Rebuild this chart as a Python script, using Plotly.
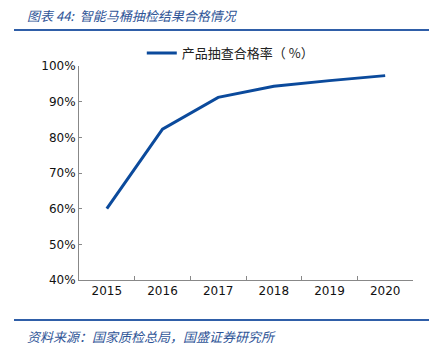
import plotly.graph_objects as go

years = ["2015", "2016", "2017", "2018", "2019", "2020"]
pass_rate = [60.0, 82.3, 91.2, 94.3, 95.9, 97.3]
y_ticks = [40, 50, 60, 70, 80, 90, 100]
y_labels = [f"{v}%" for v in y_ticks]
series_name = "产品抽查合格率（ %）"
title_text = "图表 44:  智能马桶抽检结果合格情况"
source_text = "资料来源：国家质检总局，国盛证券研究所"

W, H = 429, 351
L, R, T, B = 79, 16, 66, 71

fig = go.Figure()
fig.add_trace(go.Scatter(
    x=years, y=pass_rate, mode="lines", name=series_name,
    line=dict(color="#0B4A9C", width=3),
))

fig.update_layout(
    width=W, height=H,
    margin=dict(l=L, r=R, t=T, b=B),
    paper_bgcolor="white", plot_bgcolor="white",
    showlegend=True,
    legend=dict(
        x=0.188, y=1.061, xanchor="left", yanchor="middle",
        orientation="h",
        font=dict(family="Noto Sans CJK SC", size=13, color="#222222"),
        bgcolor="rgba(0,0,0,0)",
    ),
    xaxis=dict(
        type="category",
        showline=True, linecolor="#888888", linewidth=1,
        ticks="inside", ticklen=4, tickcolor="#888888",
        tickson="boundaries",
        showgrid=False, zeroline=False,
        tickfont=dict(family="DejaVu Sans", size=12, color="#111111"),
        range=[-0.5, 5.5],
    ),
    yaxis=dict(
        range=[40, 100],
        tickvals=y_ticks, ticktext=y_labels,
        showline=True, linecolor="#888888", linewidth=1,
        ticks="inside", ticklen=3, tickcolor="#888888",
        showgrid=False, zeroline=False,
        tickfont=dict(family="DejaVu Sans", size=12, color="#111111"),
    ),
)

line_color = "#2F5EA8"
pw = W - L - R
ph = H - T - B
fig.add_shape(type="line", xref="paper", yref="paper",
              x0=(14 - L) / pw, x1=(429 - L) / pw,
              y0=(H - B - 30) / ph, y1=(H - B - 30) / ph,
              line=dict(color=line_color, width=2))
fig.add_shape(type="line", xref="paper", yref="paper",
              x0=(14 - L) / pw, x1=(429 - L) / pw,
              y0=(H - B - 320) / ph, y1=(H - B - 320) / ph,
              line=dict(color=line_color, width=2))

fig.add_annotation(
    text=f"<i>{title_text}</i>", xref="paper", yref="paper",
    x=(25 - L) / pw, y=(H - B - 15) / ph,
    xanchor="left", yanchor="middle", showarrow=False,
    font=dict(family="Noto Sans CJK SC", size=13, color="#2F5597"),
)
fig.add_annotation(
    text=f"<i>{source_text}</i>", xref="paper", yref="paper",
    x=(25 - L) / pw, y=(H - B - 336) / ph,
    xanchor="left", yanchor="middle", showarrow=False,
    font=dict(family="Noto Sans CJK SC", size=13, color="#2F5597"),
)

fig.write_html("out.html")
